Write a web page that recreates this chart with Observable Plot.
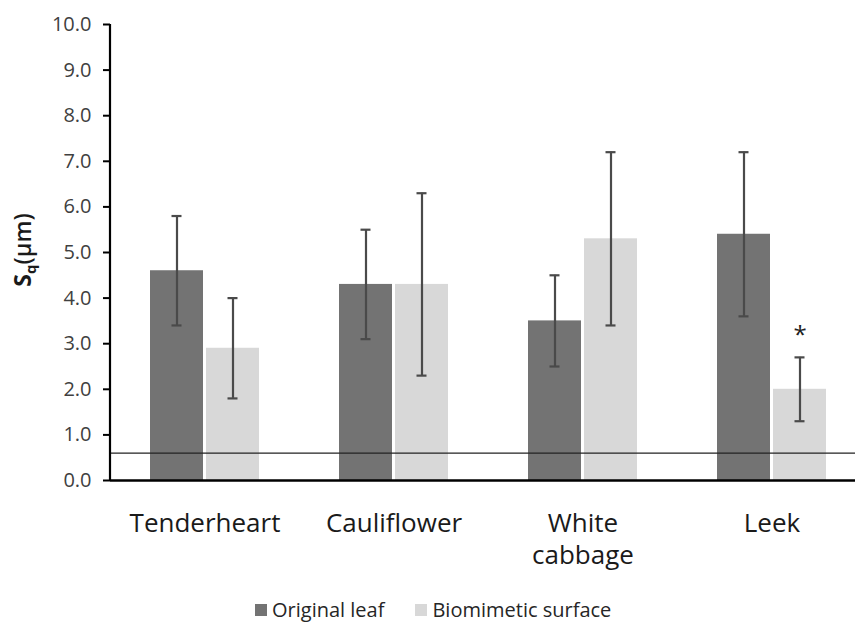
<!DOCTYPE html>
<html>
<head>
<meta charset="utf-8">
<script src="https://cdn.jsdelivr.net/npm/d3@7"></script>
<script src="https://cdn.jsdelivr.net/npm/@observablehq/plot@0.6"></script>
<style>
  html, body { margin: 0; padding: 0; background: #fff; overflow: hidden; }
  #chart { width: 855px; height: 596px; overflow: hidden; }
  #chart svg { max-width: none !important; }
  .legend { display: flex; align-items: center; font-family: "Open Sans", sans-serif; font-size: 20px; color: #262626; height: 27px; padding-left: 255px; }
  .legend .sw { width: 12px; height: 12px; display: inline-block; margin-right: 5px; }
  .legend .item { display: flex; align-items: center; margin-right: 31px; }
</style>
</head>
<body>
<div id="chart"></div>
<script>
const categories = ["Tenderheart", "Cauliflower", "White cabbage", "Leek"];
const series = ["Original leaf", "Biomimetic surface"];
const original = [4.6, 4.3, 3.5, 5.4];
const originalLow = [3.4, 3.1, 2.5, 3.6];
const originalHigh = [5.8, 5.5, 4.5, 7.2];
const biomimetic = [2.9, 4.3, 5.3, 2.0];
const biomimeticLow = [1.8, 2.3, 3.4, 1.3];
const biomimeticHigh = [4.0, 6.3, 7.2, 2.7];
const significance = ["", "", "", "*"];
const yTicks = [0, 1, 2, 3, 4, 5, 6, 7, 8, 9, 10];
const threshold = [0.6];
const colors = ["#737373", "#d8d8d8"];

const rows = [];
categories.forEach((c, i) => {
  rows.push({category: c, series: series[0], value: original[i], lo: originalLow[i], hi: originalHigh[i], sig: ""});
  rows.push({category: c, series: series[1], value: biomimetic[i], lo: biomimeticLow[i], hi: biomimeticHigh[i], sig: significance[i]});
});

const font = "'Open Sans', sans-serif";
const plot = Plot.plot({
  width: 866,
  height: 590,
  marginLeft: 110,
  marginRight: 0,
  marginTop: 24,
  marginBottom: 110,
  style: {fontFamily: font, background: "white"},
  fx: {domain: categories, paddingInner: 0, paddingOuter: 0, label: null, axis: null},
  x: {domain: series, paddingInner: 0.0536, paddingOuter: 0.714, axis: null},
  y: {domain: [0, 10], axis: null},
  color: {domain: series, range: colors},
  marks: [
    Plot.axisY(yTicks, {tickFormat: d => d.toFixed(1), tickSize: 7, tickPadding: 12, fontSize: 20, color: "#404040", stroke: "#000", strokeWidth: 2, label: null, anchor: "left"}),
    Plot.axisFx({anchor: "bottom", tickSize: 0, tickPadding: 28, fontSize: 26, lineHeight: 1.25, fill: "#1a1a1a", label: null,
                 tickFormat: d => d === "White cabbage" ? "White\ncabbage" : d}),
    Plot.barY(rows, {fx: "category", x: "series", y: "value", fill: "series"}),
    Plot.ruleY(threshold, {stroke: "#222", strokeWidth: 1.3}),
    Plot.ruleY([0], {stroke: "#000", strokeWidth: 2.5}),
    Plot.ruleX(rows, {fx: "category", x: "series", y1: "lo", y2: "hi", stroke: "#4a4a4a", strokeWidth: 2.2}),
    Plot.tickY(rows, {fx: "category", x: "series", y: "hi", stroke: "#4a4a4a", strokeWidth: 2.2, insetLeft: 21.5, insetRight: 21.5}),
    Plot.tickY(rows, {fx: "category", x: "series", y: "lo", stroke: "#4a4a4a", strokeWidth: 2.2, insetLeft: 21.5, insetRight: 21.5}),
    Plot.text(rows, {fx: "category", x: "series", y: "hi", text: "sig", dy: -22, fontSize: 24, fill: "#222"})
  ]
});

const svg = d3.select(plot);
// y axis line
svg.append("line").attr("x1", 110).attr("x2", 110).attr("y1", 24).attr("y2", 480).attr("stroke", "#000").attr("stroke-width", 2.2);
// y axis label with subscript
const lbl = svg.append("text")
  .attr("transform", "translate(31,250) rotate(-90)")
  .attr("text-anchor", "middle")
  .attr("font-family", font)
  .attr("font-size", 23)
  .attr("fill", "#1a1a1a");
lbl.append("tspan").attr("font-weight", "bold").text("S");
lbl.append("tspan").attr("font-weight", "bold").attr("font-size", 15).attr("dy", 5).text("q");
lbl.append("tspan").attr("dy", -5).attr("font-weight", 600).text("(\u00b5m)");

document.getElementById("chart").appendChild(plot);

const legend = document.createElement("div");
legend.className = "legend";
series.forEach((s, i) => {
  const item = document.createElement("span");
  item.className = "item";
  const sw = document.createElement("span");
  sw.className = "sw";
  sw.style.background = colors[i];
  item.appendChild(sw);
  item.appendChild(document.createTextNode(s));
  legend.appendChild(item);
});
document.body.appendChild(legend);
</script>
</body>
</html>
